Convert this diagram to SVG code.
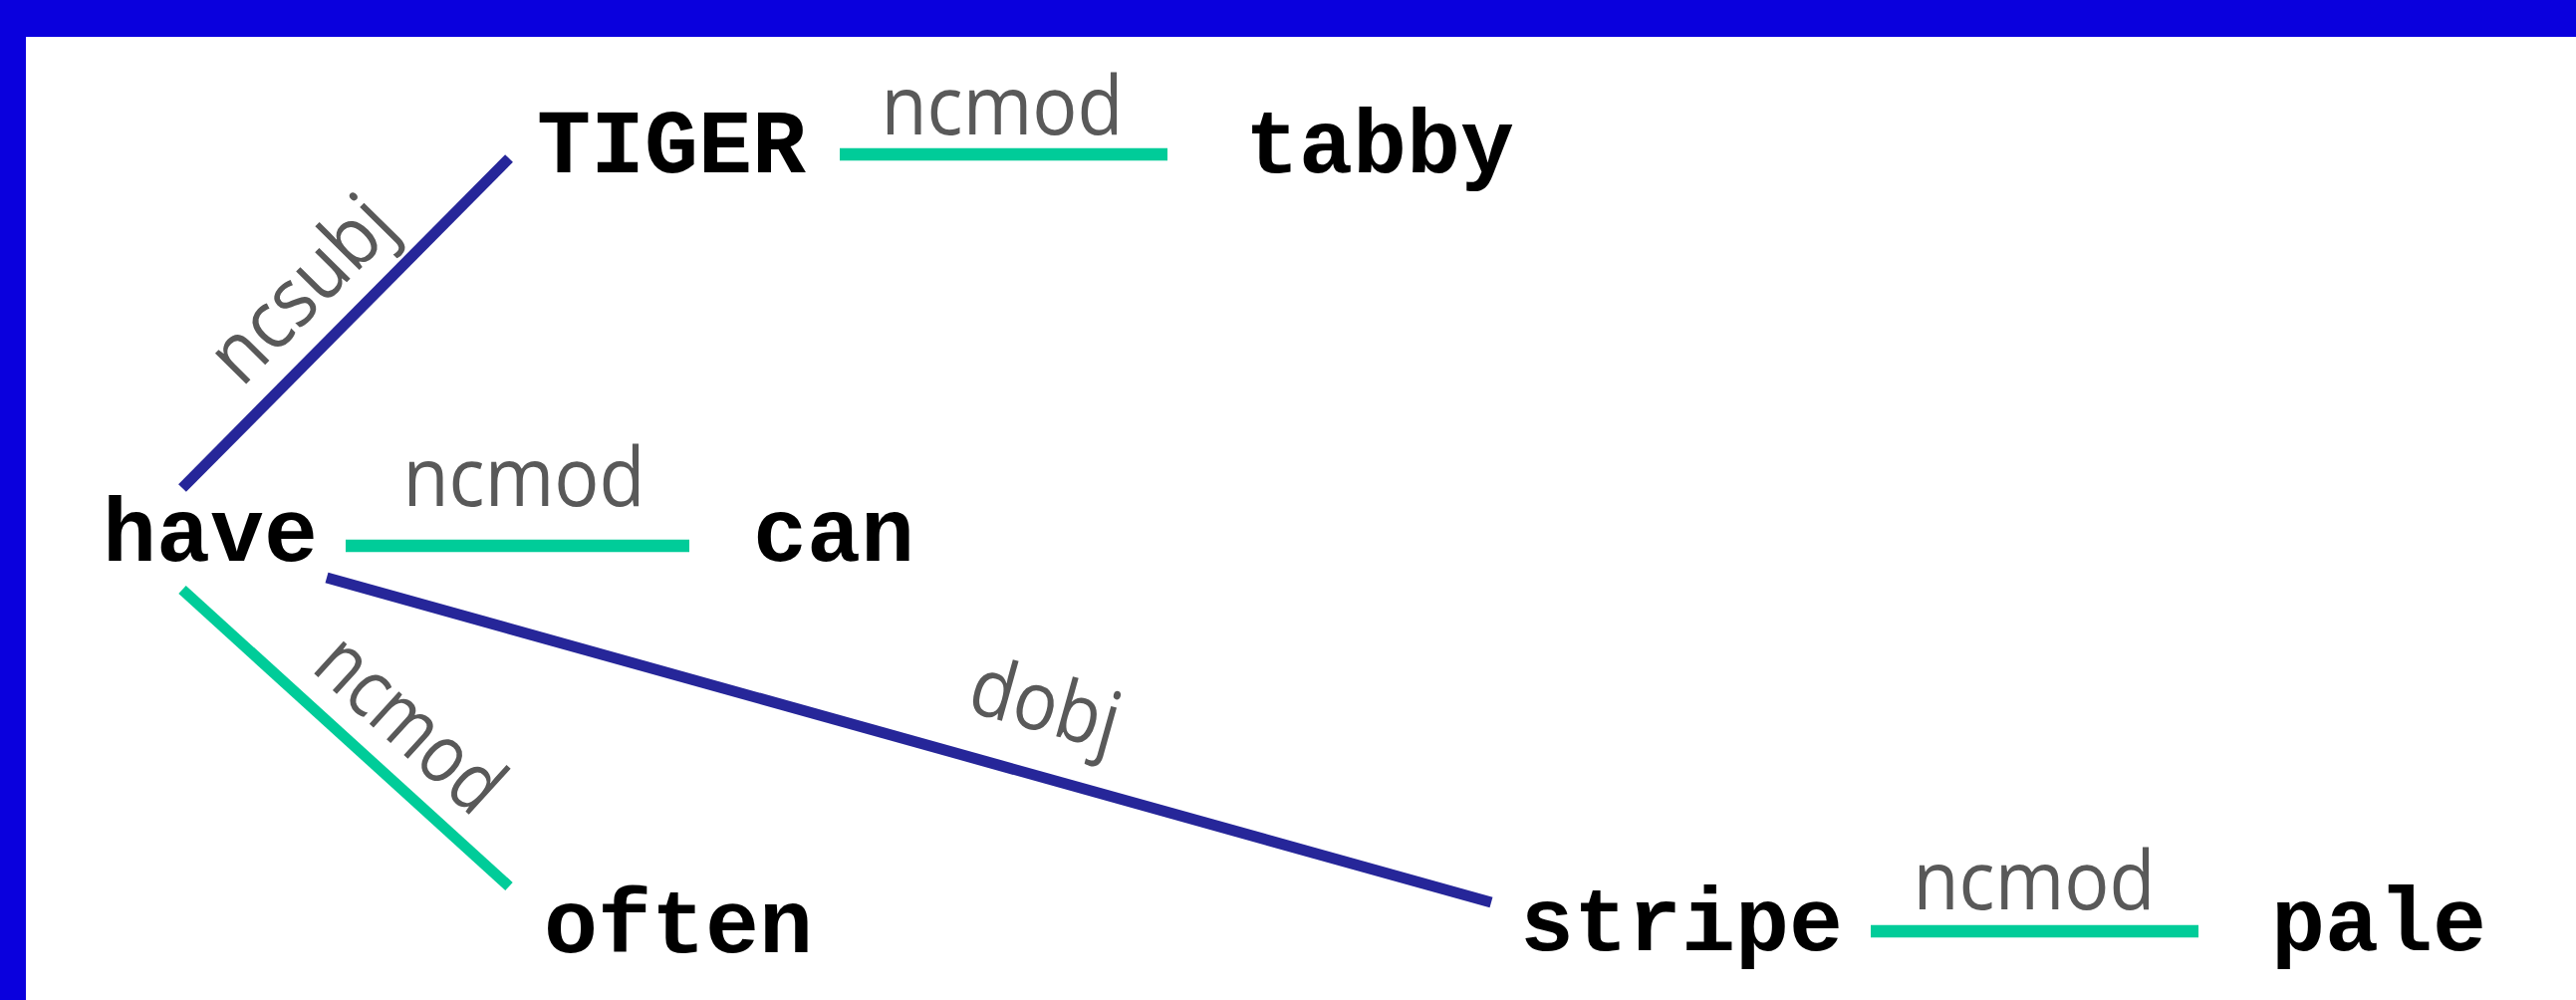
<svg xmlns="http://www.w3.org/2000/svg" width="2586" height="1004" viewBox="0 0 2586 1004">
  <style>
    .word { font-family: "Liberation Mono", "Courier New", monospace; font-weight: bold; font-size: 90px; fill: #000000; }
    .rel { font-family: "Open Sans", "Liberation Sans", sans-serif; font-size: 82px; fill: #595959; text-anchor: middle; }
    .mod { stroke: #00CC99; stroke-width: 12.5; fill: none; }
    .arg { stroke: #262699; stroke-width: 11; fill: none; }
    .slant { stroke-width: 11; }
  </style>

  <!-- page background and frame -->
  <rect x="0" y="0" width="2586" height="1004" fill="#FFFFFF"/>
  <rect x="0" y="0" width="2586" height="37" fill="#0A00DD"/>
  <rect x="0" y="0" width="26" height="1004" fill="#0A00DD"/>

  <!-- dependency arcs -->
  <g id="connectors">
    <line class="arg" x1="183" y1="490" x2="511" y2="159"/>
    <line class="mod" x1="843" y1="155" x2="1172" y2="155"/>
    <line class="mod" x1="347" y1="548" x2="692" y2="548"/>
    <line class="mod slant" x1="183" y1="592" x2="511" y2="890"/>
    <line class="arg" x1="328" y1="580" x2="1497" y2="906"/>
    <line class="mod" x1="1878" y1="935" x2="2207" y2="935"/>

    <text class="rel" transform="translate(322,310) rotate(-45.3)" textLength="225" lengthAdjust="spacingAndGlyphs">ncsubj</text>
    <text class="rel" x="1006" y="135" textLength="243" lengthAdjust="spacingAndGlyphs">ncmod</text>
    <text class="rel" x="526" y="508" textLength="243" lengthAdjust="spacingAndGlyphs">ncmod</text>
    <text class="rel" transform="translate(393,747) rotate(42.3)" textLength="222" lengthAdjust="spacingAndGlyphs">ncmod</text>
    <text class="rel" transform="translate(1042,734) rotate(15.6)" textLength="152" lengthAdjust="spacingAndGlyphs">dobj</text>
    <text class="rel" x="2042" y="913" textLength="243" lengthAdjust="spacingAndGlyphs">ncmod</text>
  </g>

  <!-- words -->
  <g id="node-tiger"><text class="word" x="539" y="173">TIGER</text></g>
  <g id="node-tabby"><text class="word" x="1250" y="173">tabby</text></g>
  <g id="node-have"><text class="word" x="103" y="563">have</text></g>
  <g id="node-can"><text class="word" x="756" y="563">can</text></g>
  <g id="node-often"><text class="word" x="546" y="956">often</text></g>
  <g id="node-stripe"><text class="word" x="1526" y="954">stripe</text></g>
  <g id="node-pale"><text class="word" x="2280" y="954">pale</text></g>
</svg>
